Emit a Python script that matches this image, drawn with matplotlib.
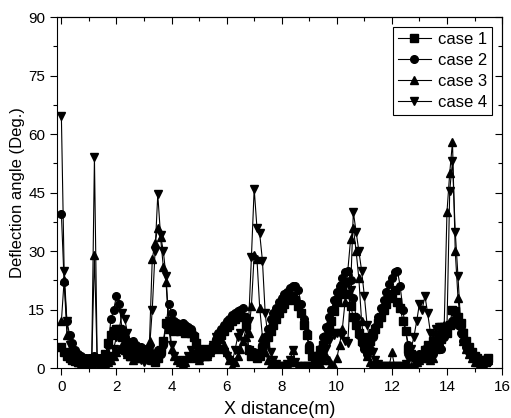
import numpy as np
import matplotlib
matplotlib.use("Agg")
import matplotlib.pyplot as plt
from matplotlib.ticker import MultipleLocator

plt.rcParams["font.family"] = ["Liberation Sans", "DejaVu Sans"]

# x positions: 0.0 .. 15.5 m, step 0.1
x_dist = np.round(np.arange(0, 156) * 0.1, 1)

case1 = [
    5.5, 4.0, 3.0, 2.5, 2.0, 1.8, 1.6, 1.5, 1.5, 1.5,
    1.5, 1.6, 2.0, 1.6, 1.8, 2.2, 3.5, 6.5, 8.5, 9.5,
    10.0, 9.0, 8.0, 5.5, 4.0, 3.0, 3.5, 4.5, 5.0, 4.5,
    4.0, 3.5, 3.0, 2.0, 1.5, 2.5, 4.5, 7.0, 11.5, 10.5,
    10.0, 9.5, 10.0, 9.5, 10.0, 9.0, 9.5, 9.0, 8.0, 6.5,
    5.0, 3.5, 3.0, 3.5, 4.5, 5.5, 6.5, 7.5, 8.5, 9.5,
    10.5, 11.0, 12.0, 12.5, 13.5, 14.0, 13.0, 11.0, 4.5, 3.0,
    3.5, 2.5, 3.0, 5.0, 6.5, 8.0, 9.5, 11.0, 12.5, 14.0,
    15.5, 16.5, 17.5, 18.0, 18.5, 17.5, 16.0, 14.0, 11.0, 8.5,
    5.0, 3.0, 2.5, 3.0, 4.5, 6.0, 8.0, 10.0, 12.0, 14.5,
    17.0, 19.0, 21.0, 22.0, 19.0, 16.0, 13.0, 11.0, 9.0, 7.0,
    6.5, 8.0, 7.0, 9.0, 10.0, 11.5, 13.0, 15.0, 16.5, 18.0,
    19.0, 20.0, 17.0, 15.5, 12.0, 9.5, 5.0, 3.5, 3.0, 2.5,
    2.5, 3.0, 4.5, 6.0, 5.0, 7.0, 6.0, 8.0, 7.5, 10.0,
    9.0, 11.0, 15.0, 14.5, 13.0, 11.5, 9.0, 7.0, 5.5, 4.0,
    3.0, 2.5, 2.0, 1.8, 2.0, 2.5,
]
case2 = [
    39.5, 22.0, 12.0, 8.5, 6.5, 4.5, 3.5, 3.0, 2.5, 2.5,
    2.5, 2.5, 3.0, 2.5, 2.5, 2.5, 3.0, 6.0, 12.5, 15.0,
    18.5, 16.5, 10.0, 8.0, 7.0, 6.5, 7.0, 6.0, 5.0, 5.5,
    5.0, 4.5, 4.0, 3.5, 3.0, 4.5, 3.5, 6.0, 11.0, 16.5,
    14.0, 12.0, 11.5, 11.0, 11.5, 11.0, 10.5, 10.0, 8.5, 6.0,
    4.0, 3.0, 3.5, 3.0, 4.0, 5.5, 7.5, 9.0, 10.0, 11.0,
    12.0, 12.5, 13.5, 14.0, 14.5, 15.0, 15.5, 13.0, 5.0, 3.5,
    4.0, 3.0, 4.0, 6.0, 8.0, 10.0, 12.5, 14.0, 15.5, 17.0,
    18.0, 19.0, 19.5, 20.5, 21.0, 21.0, 20.0, 16.5, 12.5, 9.0,
    6.0, 3.0, 2.5, 3.0, 5.0, 8.0, 10.5, 13.0, 15.0, 17.5,
    19.5, 21.0, 23.0, 24.5, 25.0, 22.5, 18.0, 13.0, 8.5, 6.5,
    5.0, 3.5, 5.0, 8.0, 10.5, 13.0, 15.5, 17.5, 19.5, 21.5,
    23.0, 24.5, 25.0, 21.0, 15.0, 9.5, 6.0, 3.0, 2.5, 3.0,
    3.5, 2.5, 5.0, 3.0, 4.5, 3.5, 5.0, 6.0, 5.0, 8.0,
    9.0, 11.0, 12.0, 12.5, 11.0, 9.0, 7.0, 5.5, 4.0, 3.0,
    2.5, 2.0, 1.5, 1.5, 1.5, 1.5,
]
case3 = [
    12.0, 22.5, 8.5, 5.0, 3.0, 2.0, 1.5, 1.0, 1.0, 1.0,
    1.0, 1.0, 29.0, 1.5, 1.0, 1.0, 1.0, 1.5, 2.0, 3.0,
    4.0, 5.0, 6.0, 4.5, 3.5, 3.0, 2.0, 2.5, 3.0, 2.5,
    3.0, 5.0, 7.0, 28.0, 32.0, 36.0, 33.5, 26.0, 22.0, 10.0,
    5.0, 3.0, 2.0, 1.5, 1.0, 1.5, 2.5, 3.0, 3.5, 2.5,
    2.0, 3.5, 4.5, 3.0, 4.0, 5.5, 6.5, 5.0, 7.5, 6.0,
    4.0, 2.0, 0.5, 1.5, 3.0, 5.0, 7.0, 8.0, 9.0, 16.0,
    29.0, 28.0, 15.5, 8.0, 4.0, 2.0, 1.0, 0.5, 0.5, 0.5,
    0.5, 0.5, 1.0, 1.5, 4.5, 1.5, 0.5, 0.5, 0.5, 0.5,
    0.5, 0.5, 0.5, 0.5, 1.0, 2.0, 3.0, 2.0, 1.0, 0.5,
    2.5, 6.0, 10.0, 17.0, 25.0, 33.0, 36.0, 30.0, 23.0, 12.0,
    6.0, 3.0, 1.5, 1.0, 0.5, 0.5, 0.5, 0.5, 0.5, 0.5,
    4.0, 0.5, 0.5, 0.5, 0.5, 0.5, 0.5, 0.5, 1.0, 1.5,
    2.0, 2.5, 3.0, 2.5, 2.0, 2.5, 5.0, 8.0, 10.0, 11.0,
    40.0, 50.0, 58.0, 30.0, 18.0, 11.0, 7.0, 5.0, 3.5, 2.5,
    1.5, 1.5, 1.0, 1.0, 1.5, 2.0,
]
case4 = [
    64.5, 25.0, 12.0, 6.0, 3.0, 2.0, 1.5, 1.0, 1.0, 1.0,
    1.0, 1.5, 54.0, 2.0, 1.0, 1.0, 1.5, 2.0, 3.0, 5.0,
    8.0, 10.0, 14.0, 12.5, 9.0, 6.0, 4.0, 3.5, 2.5, 2.0,
    1.5, 2.0, 5.0, 15.0, 30.0, 44.5, 34.0, 30.0, 23.5, 12.0,
    6.0, 3.0, 2.0, 1.5, 1.0, 2.0, 3.0, 4.5, 3.5, 2.5,
    2.0, 2.5, 3.5, 5.0, 3.5, 6.0, 8.0, 6.5, 5.0, 4.0,
    3.0, 2.0, 1.5, 4.5, 8.0, 9.0, 7.0, 10.0, 12.0, 28.5,
    46.0, 36.0, 34.5, 27.5, 14.0, 8.0, 4.0, 2.0, 1.0, 0.5,
    0.5, 0.5, 1.0, 2.0, 4.5, 1.5, 0.5, 0.5, 0.5, 0.5,
    0.5, 0.5, 0.5, 1.0, 2.0, 3.5, 5.0, 7.0, 9.0, 8.5,
    9.0, 9.0, 8.5, 7.0, 6.5, 20.0, 40.0, 35.0, 30.0, 25.0,
    18.5, 11.0, 7.0, 4.0, 2.0, 1.0, 0.5, 0.5, 0.5, 0.5,
    0.5, 0.5, 0.5, 0.5, 0.5, 1.0, 2.5, 5.0, 8.0, 12.0,
    16.5, 15.0, 18.5, 14.0, 9.0, 8.5, 10.0, 10.5, 10.5, 10.5,
    10.5, 45.5, 53.0, 35.0, 23.5, 11.0, 9.0, 6.0, 4.0, 3.0,
    2.0, 1.5, 1.0, 1.0, 1.5, 2.0,
]

series = [("case 1", case1, "s"), ("case 2", case2, "o"),
          ("case 3", case3, "^"), ("case 4", case4, "v")]

fig = plt.figure(figsize=(5.11, 4.18), dpi=100)
ax = fig.add_axes([0.1115, 0.1196, 0.871, 0.8397])

for label, vals, mk in series:
    ax.plot(x_dist, vals, color="black", lw=0.8, marker=mk, ms=5.5,
            mfc="black", mec="black", label=label)

ax.set_xlim(-0.16, 16)
ax.set_ylim(0, 90)
ax.xaxis.set_major_locator(MultipleLocator(2))
ax.xaxis.set_minor_locator(MultipleLocator(1))
ax.yaxis.set_major_locator(MultipleLocator(15))
ax.yaxis.set_minor_locator(MultipleLocator(7.5))
ax.tick_params(which="both", direction="out", labelsize=11, width=0.8)
ax.tick_params(which="major", length=5)
ax.tick_params(which="minor", length=3)

# inward ticks on top and right, no labels
top = ax.secondary_xaxis("top")
top.xaxis.set_major_locator(MultipleLocator(2))
top.xaxis.set_minor_locator(MultipleLocator(1))
top.tick_params(which="both", direction="in", labeltop=False, width=0.8)
top.tick_params(which="major", length=5)
top.tick_params(which="minor", length=3)
right = ax.secondary_yaxis("right")
right.yaxis.set_major_locator(MultipleLocator(15))
right.yaxis.set_minor_locator(MultipleLocator(7.5))
right.tick_params(which="both", direction="in", labelright=False, width=0.8)
right.tick_params(which="major", length=5)
right.tick_params(which="minor", length=3)

ax.set_xlabel("X distance(m)", fontsize=13, labelpad=5)
ax.set_ylabel("Deflection angle (Deg.)", fontsize=12, labelpad=2)

leg = ax.legend(loc="upper right", fontsize=12, fancybox=False, framealpha=1,
                edgecolor="black", borderaxespad=0.6, handlelength=2.0,
                handletextpad=0.4, labelspacing=0.35, borderpad=0.3)
leg.get_frame().set_linewidth(0.8)

fig.savefig("out.png", dpi=100)
